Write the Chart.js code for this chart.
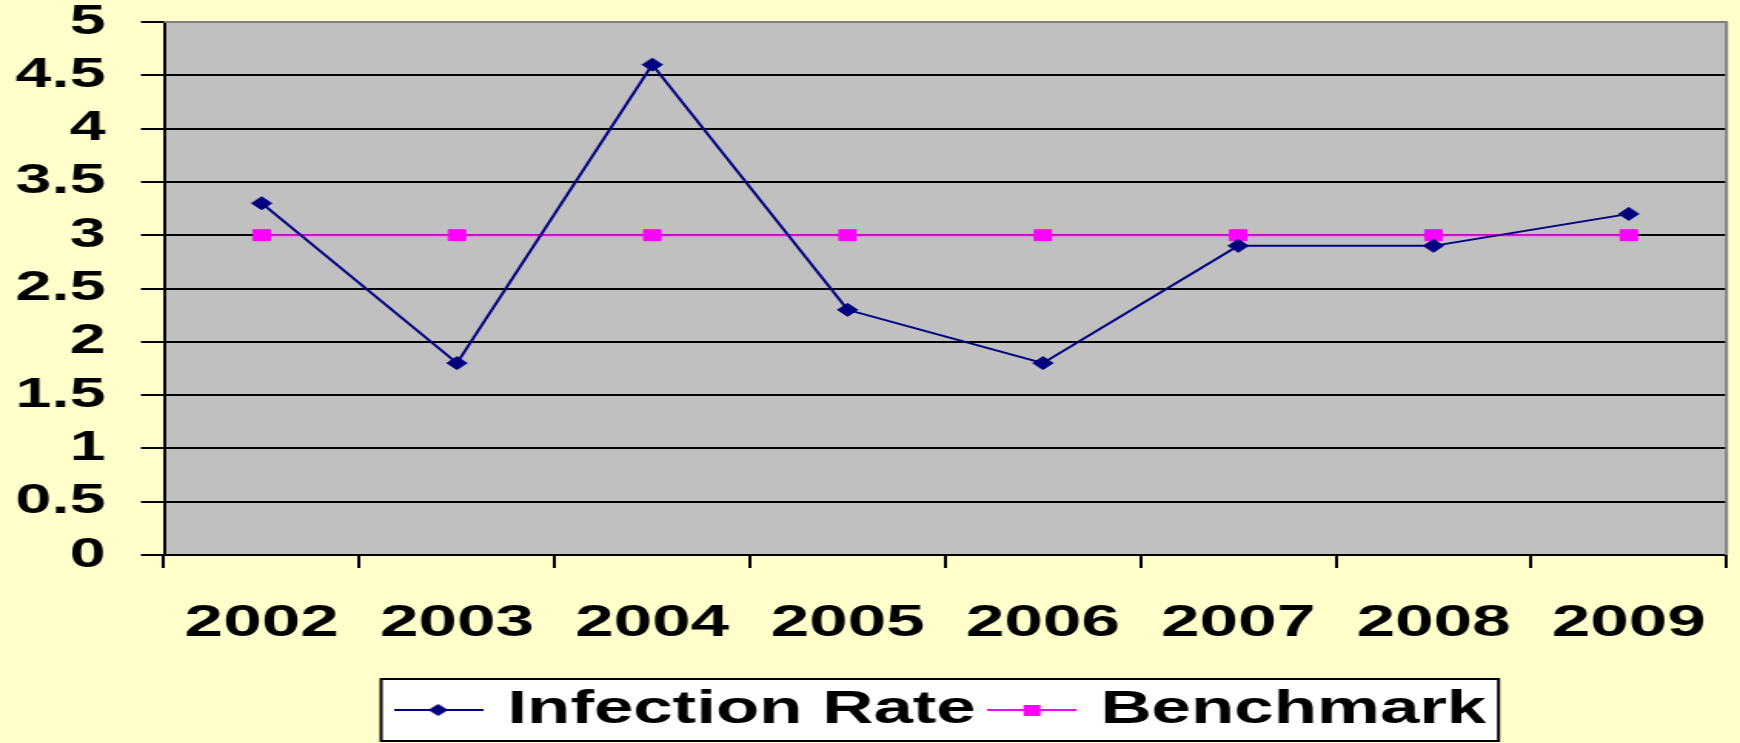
<!DOCTYPE html>
<html>
<head>
<meta charset="utf-8">
<script src="https://cdn.jsdelivr.net/npm/chart.js@4.4.1/dist/chart.umd.min.js"></script>
<style>
  html, body { margin: 0; padding: 0; background: #FFFFCC; overflow: hidden; }
</style>
</head>
<body>
<canvas id="chart" width="1130" height="743" style="display:block;width:1740px;height:743px"></canvas>
<script>
// The reference is stretched ~1.54x sideways, so the chart is drawn 1130px wide
// and the canvas is shown at 1740px.
const years = ['2002', '2003', '2004', '2005', '2006', '2007', '2008', '2009'];
const infectionRate = [3.3, 1.8, 4.6, 2.3, 1.8, 2.9, 2.9, 3.2];
const benchmark = [3, 3, 3, 3, 3, 3, 3, 3];
const yMin = 0;
const yMax = 5;
const yStep = 0.5;

const FONT = '"Liberation Sans", Arial, sans-serif';
const NAVY = '#000080';
const MAGENTA = '#FF00FF';

// legend sample: short line with the marker in the middle
function legendSample(color, marker) {
  const c = document.createElement('canvas');
  c.width = 58; c.height = 16;
  const g = c.getContext('2d');
  g.strokeStyle = color;
  g.lineWidth = 2;
  g.beginPath(); g.moveTo(0, 8); g.lineTo(58, 8); g.stroke();
  g.fillStyle = color;
  if (marker === 'diamond') {
    g.beginPath();
    g.moveTo(29, 2); g.lineTo(35.5, 8); g.lineTo(29, 14); g.lineTo(22.5, 8);
    g.closePath(); g.fill();
  } else {
    g.fillRect(24, 3, 11, 11);
  }
  return c;
}
const samples = [legendSample(NAVY, 'diamond'), legendSample(MAGENTA, 'square')];

const plotDecor = {
  id: 'plotDecor',
  beforeDraw(chart) {
    const { ctx, chartArea: a } = chart;
    ctx.save();
    ctx.fillStyle = '#C0C0C0';
    ctx.fillRect(a.left, a.top, a.right - a.left, a.bottom - a.top);

    const boxes = chart.legend && chart.legend.legendHitBoxes;
    if (boxes && boxes.length) {
      const left = Math.min(...boxes.map(b => b.left)) - 15;
      const right = Math.max(...boxes.map(b => b.left + b.width)) + 8;
      const mid = boxes[0].top + boxes[0].height / 2;
      ctx.fillStyle = '#FFFFFF';
      ctx.fillRect(left, mid - 31, right - left, 62);
      ctx.strokeStyle = '#000000';
      ctx.lineWidth = 2;
      ctx.strokeRect(left, mid - 31, right - left, 62);
    }
    ctx.restore();
  },
  beforeDatasetsDraw(chart) {
    // grey frame on top and right of the plot area
    const { ctx, chartArea: a } = chart;
    ctx.save();
    ctx.strokeStyle = '#808080';
    ctx.lineWidth = 2;
    ctx.beginPath();
    ctx.moveTo(a.left, a.top);
    ctx.lineTo(a.right, a.top);
    ctx.lineTo(a.right, a.bottom);
    ctx.stroke();
    ctx.restore();
  }
};

new Chart(document.getElementById('chart'), {
  type: 'line',
  data: {
    labels: years,
    datasets: [
      {
        label: 'Infection Rate', data: infectionRate,
        borderColor: NAVY, backgroundColor: NAVY, borderWidth: 2,
        pointStyle: 'rectRot', pointRadius: 6.5, pointBorderWidth: 1, tension: 0
      },
      {
        label: 'Benchmark', data: benchmark,
        borderColor: MAGENTA, backgroundColor: MAGENTA, borderWidth: 2,
        pointStyle: 'rect', pointRadius: 7.8, pointBorderWidth: 1, tension: 0
      }
    ]
  },
  options: {
    responsive: false,
    animation: false,
    events: [],
    layout: { padding: { left: 0, right: 2, top: 22, bottom: 0 } },
    plugins: {
      tooltip: { enabled: false },
      legend: {
        position: 'bottom',
        fullSize: false,
        labels: {
          usePointStyle: true,
          pointStyleWidth: 44,
          padding: 14,
          color: '#000',
          font: { family: FONT, size: 46, weight: 'bold' },
          generateLabels: chart =>
            Chart.defaults.plugins.legend.labels.generateLabels(chart)
              .map((item, i) => ({ ...item, pointStyle: samples[i] }))
        }
      }
    },
    scales: {
      x: {
        offset: true,
        grid: { offset: true, drawOnChartArea: false, tickLength: 13, color: '#000', lineWidth: 2 },
        border: { color: '#000', width: 2 },
        ticks: {
          color: '#000', padding: 29, maxRotation: 0, autoSkip: false,
          font: { family: FONT, size: 45, weight: 'bold' }
        },
        afterFit(scale) {
          scale.height = 118;
          scale.paddingLeft = 0;
          scale.paddingRight = 0;
        }
      },
      y: {
        min: yMin, max: yMax,
        grid: { color: '#000', lineWidth: 2, tickLength: 15 },
        border: { color: '#000', width: 2 },
        ticks: {
          stepSize: yStep, color: '#000', padding: 23,
          font: { family: FONT, size: 42, weight: 'bold', lineHeight: 1 },
          callback: v => String(v)
        },
        afterFit(scale) {
          scale.width = 106.5;
          scale.paddingTop = 0;
          scale.paddingBottom = 0;
        }
      }
    }
  },
  plugins: [plotDecor]
});
</script>
</body>
</html>
